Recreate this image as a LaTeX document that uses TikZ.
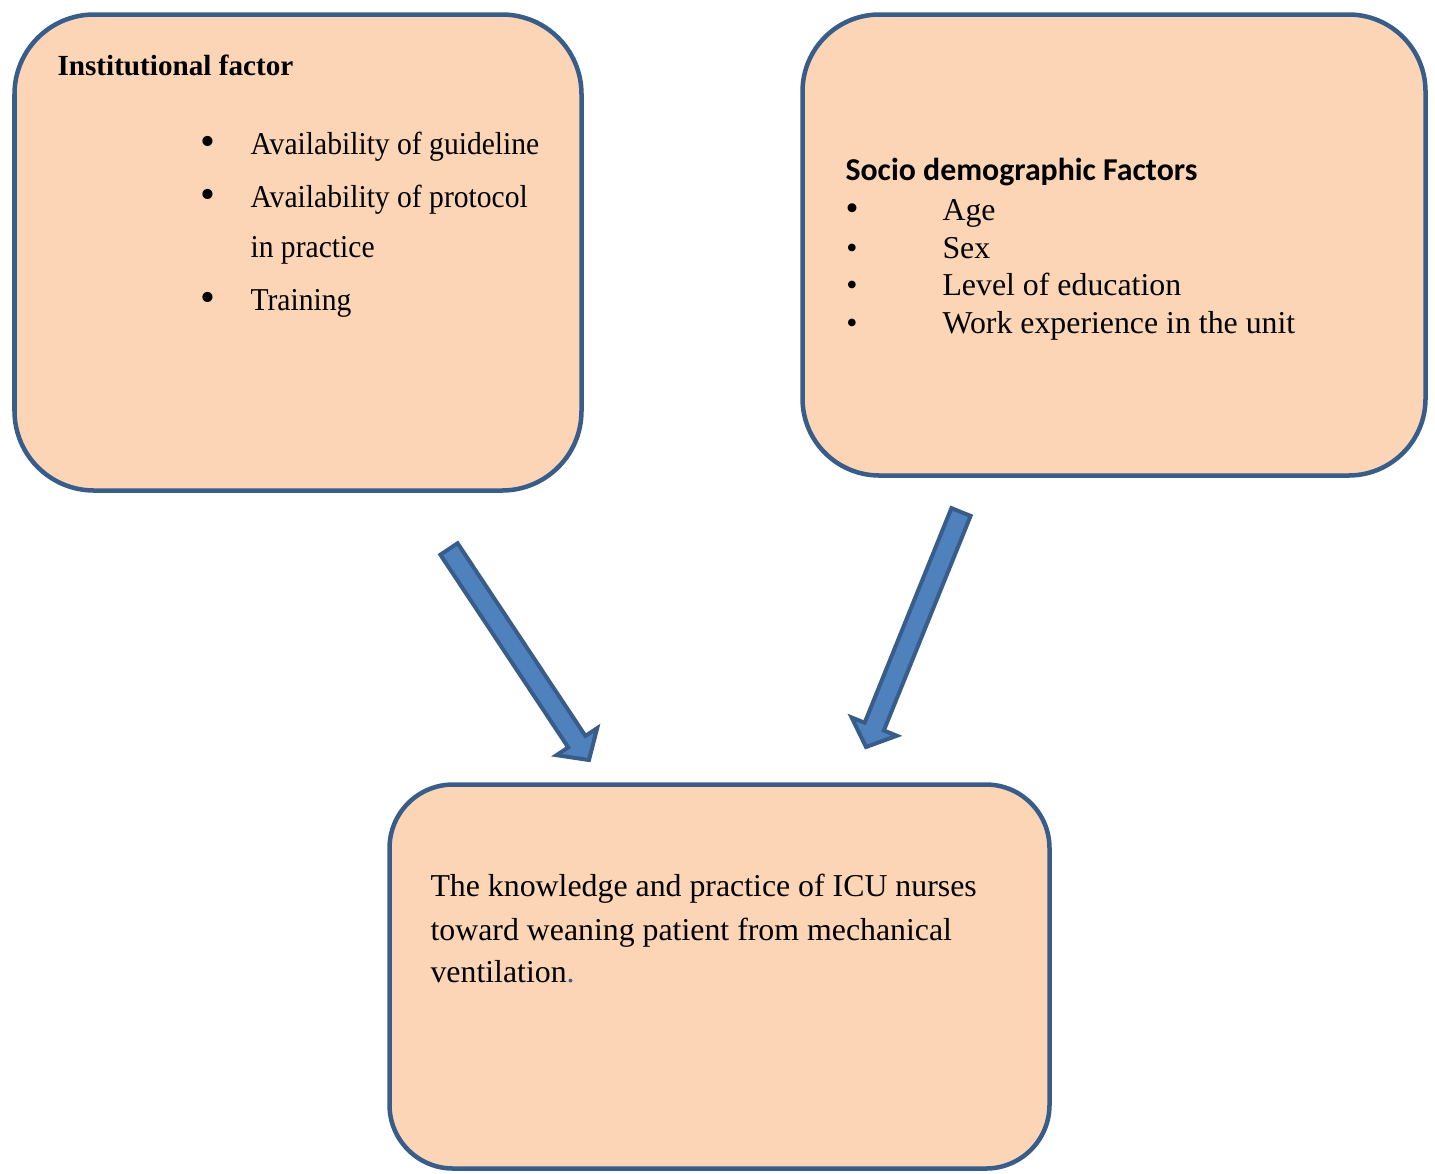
\documentclass[tikz,border=0pt]{standalone}
\usepackage{fontspec}
\setmainfont{Liberation Serif}
\newfontfamily\headfont{Carlito}
\newfontfamily\narrowfont[FakeStretch=0.93]{Liberation Serif}
\usetikzlibrary{calc,fit}

\definecolor{boxfill}{HTML}{FBD5B5}
\definecolor{boxline}{HTML}{385D8A}
\definecolor{arrowfill}{HTML}{4F81BD}

% block arrow between two named coordinates
\newcommand{\blockarrow}[2]{%
	\coordinate (#1base) at ($(#2)!8.3pt!(#1)$);
	\draw [arrowstyle] ($(#1)!3.9pt!90:(#2)$) -- ($(#1base)!3.9pt!90:(#2)$) -- ($(#1base)!9.2pt!90:(#2)$) -- (#2)
		-- ($(#1base)!9.2pt!-90:(#2)$) -- ($(#1base)!3.9pt!-90:(#2)$) -- ($(#1)!3.9pt!-90:(#2)$) -- cycle;
}

\begin{document}
\begin{tikzpicture}[x=0.377pt, y=-0.377pt,
	factorbox/.style={draw=boxline, fill=boxfill, line width=1.7pt, inner sep=0pt, outer sep=0pt},
	arrowstyle/.style={draw=boxline, fill=arrowfill, line width=1.5pt, line join=miter},
	item/.style={anchor=base west, inner sep=0pt, font=\fontsize{12}{14}\selectfont},
	narrowitem/.style={item, font=\narrowfont\fontsize{12}{14}\selectfont},
	dot/.style={anchor=base, inner sep=0pt, font=\fontsize{12}{14}\selectfont},
	bigdot/.style={dot, font=\fontsize{16}{18}\selectfont}]
	\useasboundingbox (0,0) rectangle (1435,1173);

	% Cajas
	\node [factorbox, rounded corners=30pt, fit={(14.5,14.5) (581.5,490.5)}] (inst) {};
	\node [factorbox, rounded corners=29pt, fit={(802.5,14.5) (1425.5,475.5)}] (socio) {};
	\node [factorbox, rounded corners=24pt, fit={(389.5,784.5) (1049.5,1168.5)}] (outcome) {};

	% Factores institucionales
	\node [item, font=\bfseries\fontsize{11}{13}\selectfont] (instTitle) at (57,75) {Institutional factor};
	\node [bigdot] (instDotA) at (208,155) {•};
	\node [narrowitem] (instA) at (250,154) {Availability of guideline};
	\node [bigdot] (instDotB) at (208,208) {•};
	\node [narrowitem] (instB) at (250,207) {Availability of protocol};
	\node [narrowitem] (instBb) at (250,257) {in practice};
	\node [bigdot] (instDotC) at (208,311) {•};
	\node [narrowitem] (instC) at (250,310) {Training};

	% Factores sociodemograficos
	\node [item, font=\headfont\bfseries\fontsize{12}{14}\selectfont] (socioTitle) at (845,180) {Socio demographic Factors};
	\node [dot, font=\fontsize{14}{16}\selectfont] (socioDotA) at (852,220) {•};
	\node [item] (socioA) at (942,220) {Age};
	\node [dot] (socioDotB) at (852,258) {•};
	\node [item] (socioB) at (942,258) {Sex};
	\node [dot] (socioDotC) at (852,295) {•};
	\node [item] (socioC) at (942,295) {Level of education};
	\node [dot] (socioDotD) at (852,333) {•};
	\node [item] (socioD) at (942,333) {Work experience in the unit};

	% Resultado
	\node [item] (outcomeA) at (430,896) {The knowledge and practice of ICU nurses};
	\node [item] (outcomeB) at (430,940) {toward weaning patient from mechanical};
	\node [item] (outcomeC) at (430,982) {ventilation{\color{boxline}.}};

	% Flechas
	\coordinate (instTail) at (449,549);
	\coordinate (instTip) at (589,760);
	\coordinate (socioTail) at (961,512);
	\coordinate (socioTip) at (866,747);
	\blockarrow{instTail}{instTip}
	\blockarrow{socioTail}{socioTip}
\end{tikzpicture}
\end{document}
